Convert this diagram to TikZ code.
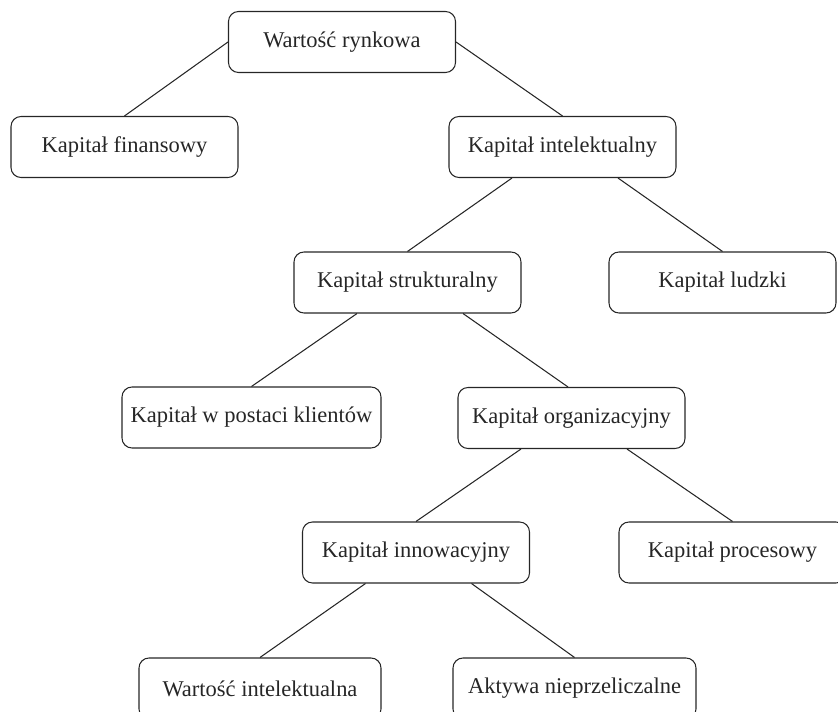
\documentclass[tikz,border=0pt]{standalone}
\usepackage{fontspec}
\setmainfont{Liberation Serif}
\usepackage{tikz}

\begin{document}
\begin{tikzpicture}[color=black!85, line width=0.6pt,
	box/.style={draw, rounded corners=0.2cm, minimum width=4.54cm, minimum height=1.22cm, inner xsep=0.16cm, font=\fontsize{12.8}{15}\selectfont}]
	\clip (0,0) rectangle (16.76,-14.24);
	
	\node[box] (WR) at (6.84,-0.84) {Wartość rynkowa};
	\node[box] (KF) at (2.49,-2.94) {Kapitał finansowy};
	\node[box] (KI) at (11.25,-2.94) {Kapitał intelektualny};
	\node[box] (KS) at (8.15,-5.65) {Kapitał strukturalny};
	\node[box] (KL) at (14.45,-5.65) {Kapitał ludzki};
	\node[box, minimum width=5.18cm] (KK) at (5.03,-8.35) {Kapitał w postaci klientów};
	\node[box] (KO) at (11.43,-8.36) {Kapitał organizacyjny};
	\node[box] (KIn) at (8.32,-11.05) {Kapitał innowacyjny};
	\node[box] (KP) at (14.65,-11.05) {Kapitał procesowy};
	\node[box, minimum width=4.84cm] (WI) at (5.2,-13.77) {Wartość intelektualna};
	\node[box, minimum width=4.86cm] (AN) at (11.49,-13.77) {Aktywa nieprzeliczalne};
	
	\draw (WR.west) -- (KF.north);
	\draw (WR.east) -- (KI.north);
	
	\draw ([xshift=-1.01cm]KI.south) -- (KS.north);
	\draw ([xshift=1.11cm]KI.south) -- (KL.north);
	
	\draw ([xshift=-1.01cm]KS.south) -- (KK.north);
	\draw ([xshift=1.11cm]KS.south) -- ([xshift=-0.07cm]KO.north);
	
	\draw ([xshift=-1.01cm]KO.south) -- (KIn.north);
	\draw ([xshift=1.11cm]KO.south) -- (KP.north);
	
	\draw ([xshift=-1.01cm]KIn.south) -- (WI.north);
	\draw ([xshift=1.11cm]KIn.south) -- (AN.north);
	
\end{tikzpicture}
\end{document}
